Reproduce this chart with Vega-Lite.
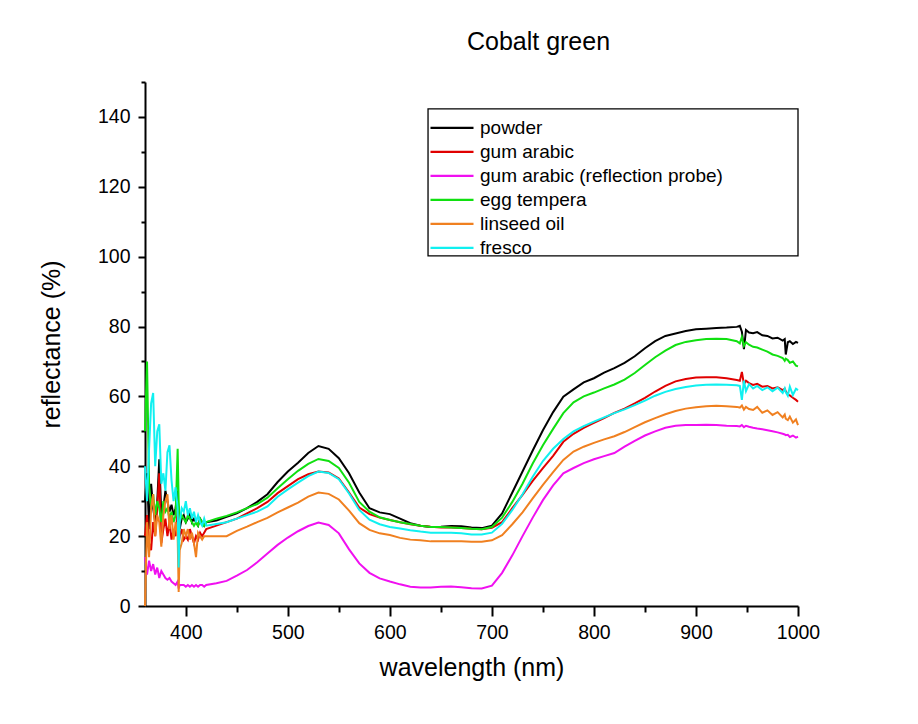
{
  "$schema": "https://vega.github.io/schema/vega-lite/v6.json",
  "autosize": {"type": "none"},
  "padding": {"left": 145, "top": 82, "right": 120, "bottom": 118},
  "width": 653,
  "height": 524,
  "background": "white",
  "title": {
    "text": "Cobalt green",
    "fontSize": 25,
    "fontWeight": "normal",
    "font": "Liberation Sans",
    "color": "black",
    "anchor": "middle",
    "dx": 67,
    "offset": 26
  },
  "config": {
    "view": {"stroke": null},
    "font": "Liberation Sans"
  },
  "resolve": {"axis": {"x": "independent", "y": "independent"}},
  "layer": [
    {
      "data": {
        "values": [
          {"wl": 360, "powder": 30, "gum arabic": 20, "gum arabic (reflection probe)": 14, "egg tempera": 50, "linseed oil": 0, "fresco": 40},
          {"wl": 362, "powder": 38, "gum arabic": 26, "gum arabic (reflection probe)": 9, "egg tempera": 70, "linseed oil": 24, "fresco": 30},
          {"wl": 364, "powder": 22, "gum arabic": 18, "gum arabic (reflection probe)": 13, "egg tempera": 35, "linseed oil": 14, "fresco": 45},
          {"wl": 366, "powder": 35, "gum arabic": 16, "gum arabic (reflection probe)": 10, "egg tempera": 28, "linseed oil": 28, "fresco": 58},
          {"wl": 368, "powder": 28, "gum arabic": 24, "gum arabic (reflection probe)": 12, "egg tempera": 32, "linseed oil": 32, "fresco": 61},
          {"wl": 370, "powder": 24, "gum arabic": 20, "gum arabic (reflection probe)": 9, "egg tempera": 26, "linseed oil": 20, "fresco": 40},
          {"wl": 372, "powder": 30, "gum arabic": 28, "gum arabic (reflection probe)": 11, "egg tempera": 30, "linseed oil": 26, "fresco": 50},
          {"wl": 374, "powder": 42, "gum arabic": 38, "gum arabic (reflection probe)": 8, "egg tempera": 28, "linseed oil": 24, "fresco": 52},
          {"wl": 376, "powder": 26, "gum arabic": 18, "gum arabic (reflection probe)": 10, "egg tempera": 24, "linseed oil": 17, "fresco": 35},
          {"wl": 378, "powder": 28, "gum arabic": 22, "gum arabic (reflection probe)": 9, "egg tempera": 30, "linseed oil": 26, "fresco": 38},
          {"wl": 380, "powder": 33, "gum arabic": 25, "gum arabic (reflection probe)": 8, "egg tempera": 27, "linseed oil": 30, "fresco": 33},
          {"wl": 382, "powder": 30, "gum arabic": 20, "gum arabic (reflection probe)": 7.5, "egg tempera": 28, "linseed oil": 32, "fresco": 44},
          {"wl": 384, "powder": 27, "gum arabic": 24, "gum arabic (reflection probe)": 8, "egg tempera": 25, "linseed oil": 22, "fresco": 46},
          {"wl": 386, "powder": 29, "gum arabic": 19, "gum arabic (reflection probe)": 7, "egg tempera": 27, "linseed oil": 26, "fresco": 36},
          {"wl": 388, "powder": 26, "gum arabic": 22, "gum arabic (reflection probe)": 6.5, "egg tempera": 24, "linseed oil": 19, "fresco": 30},
          {"wl": 390, "powder": 28, "gum arabic": 20, "gum arabic (reflection probe)": 6, "egg tempera": 26, "linseed oil": 24, "fresco": 34},
          {"wl": 392, "powder": 33, "gum arabic": 28, "gum arabic (reflection probe)": 7, "egg tempera": 45, "linseed oil": 20, "fresco": 28},
          {"wl": 393, "powder": 24, "gum arabic": 18, "gum arabic (reflection probe)": 5, "egg tempera": 30, "linseed oil": 4, "fresco": 11},
          {"wl": 394, "powder": 22, "gum arabic": 20, "gum arabic (reflection probe)": 6, "egg tempera": 24, "linseed oil": 16, "fresco": 24},
          {"wl": 396, "powder": 25, "gum arabic": 22, "gum arabic (reflection probe)": 6, "egg tempera": 26, "linseed oil": 18, "fresco": 28},
          {"wl": 398, "powder": 26, "gum arabic": 19, "gum arabic (reflection probe)": 6, "egg tempera": 25, "linseed oil": 22, "fresco": 27},
          {"wl": 400, "powder": 24, "gum arabic": 20, "gum arabic (reflection probe)": 5.5, "egg tempera": 24, "linseed oil": 20, "fresco": 30},
          {"wl": 402, "powder": 25, "gum arabic": 19, "gum arabic (reflection probe)": 6, "egg tempera": 26, "linseed oil": 22, "fresco": 26},
          {"wl": 404, "powder": 27, "gum arabic": 22, "gum arabic (reflection probe)": 5.5, "egg tempera": 25, "linseed oil": 19, "fresco": 28},
          {"wl": 406, "powder": 24, "gum arabic": 20, "gum arabic (reflection probe)": 6, "egg tempera": 24, "linseed oil": 21, "fresco": 25},
          {"wl": 408, "powder": 25, "gum arabic": 18, "gum arabic (reflection probe)": 5.5, "egg tempera": 23, "linseed oil": 18, "fresco": 27},
          {"wl": 410, "powder": 24, "gum arabic": 20, "gum arabic (reflection probe)": 6, "egg tempera": 24, "linseed oil": 14, "fresco": 24},
          {"wl": 412, "powder": 23, "gum arabic": 19, "gum arabic (reflection probe)": 5.5, "egg tempera": 23, "linseed oil": 21, "fresco": 26},
          {"wl": 414, "powder": 25, "gum arabic": 21, "gum arabic (reflection probe)": 6, "egg tempera": 25, "linseed oil": 20, "fresco": 24},
          {"wl": 416, "powder": 24, "gum arabic": 20, "gum arabic (reflection probe)": 6, "egg tempera": 24, "linseed oil": 19, "fresco": 23},
          {"wl": 418, "powder": 23, "gum arabic": 21, "gum arabic (reflection probe)": 5.5, "egg tempera": 23, "linseed oil": 20, "fresco": 25},
          {"wl": 420, "powder": 24, "gum arabic": 22, "gum arabic (reflection probe)": 6, "egg tempera": 24, "linseed oil": 20, "fresco": 23},
          {"wl": 430, "powder": 24.5, "gum arabic": 23, "gum arabic (reflection probe)": 6.5, "egg tempera": 25, "linseed oil": 20, "fresco": 23.5},
          {"wl": 440, "powder": 25.5, "gum arabic": 24, "gum arabic (reflection probe)": 7.2, "egg tempera": 25.8, "linseed oil": 20, "fresco": 24},
          {"wl": 450, "powder": 26.5, "gum arabic": 25, "gum arabic (reflection probe)": 8.7, "egg tempera": 26.8, "linseed oil": 21.5, "fresco": 25},
          {"wl": 460, "powder": 28, "gum arabic": 26.5, "gum arabic (reflection probe)": 10.3, "egg tempera": 28, "linseed oil": 22.7, "fresco": 26},
          {"wl": 470, "powder": 29.8, "gum arabic": 28, "gum arabic (reflection probe)": 12.5, "egg tempera": 29.2, "linseed oil": 24, "fresco": 27},
          {"wl": 480, "powder": 32, "gum arabic": 29.8, "gum arabic (reflection probe)": 15, "egg tempera": 31, "linseed oil": 25.2, "fresco": 28.5},
          {"wl": 490, "powder": 35.5, "gum arabic": 32.3, "gum arabic (reflection probe)": 17.5, "egg tempera": 33.7, "linseed oil": 26.8, "fresco": 31.3},
          {"wl": 500, "powder": 38.5, "gum arabic": 34.3, "gum arabic (reflection probe)": 19.6, "egg tempera": 36.3, "linseed oil": 28.2, "fresco": 33.4},
          {"wl": 510, "powder": 41, "gum arabic": 36.3, "gum arabic (reflection probe)": 21.4, "egg tempera": 38.7, "linseed oil": 29.6, "fresco": 35.3},
          {"wl": 520, "powder": 43.8, "gum arabic": 37.7, "gum arabic (reflection probe)": 22.9, "egg tempera": 40.7, "linseed oil": 31.3, "fresco": 37.2},
          {"wl": 530, "powder": 45.8, "gum arabic": 38.5, "gum arabic (reflection probe)": 23.9, "egg tempera": 42.1, "linseed oil": 32.5, "fresco": 38.5},
          {"wl": 540, "powder": 45, "gum arabic": 38.2, "gum arabic (reflection probe)": 23.2, "egg tempera": 41.5, "linseed oil": 32.1, "fresco": 38.1},
          {"wl": 550, "powder": 42.3, "gum arabic": 36.5, "gum arabic (reflection probe)": 20.8, "egg tempera": 39.5, "linseed oil": 30.5, "fresco": 36.3},
          {"wl": 560, "powder": 38, "gum arabic": 32.5, "gum arabic (reflection probe)": 16.2, "egg tempera": 35.3, "linseed oil": 27.3, "fresco": 32.2},
          {"wl": 570, "powder": 32.5, "gum arabic": 28.2, "gum arabic (reflection probe)": 12.2, "egg tempera": 29.8, "linseed oil": 23.7, "fresco": 27.5},
          {"wl": 580, "powder": 28, "gum arabic": 26.3, "gum arabic (reflection probe)": 9.5, "egg tempera": 27, "linseed oil": 21.8, "fresco": 24.7},
          {"wl": 590, "powder": 26.8, "gum arabic": 25.3, "gum arabic (reflection probe)": 7.9, "egg tempera": 25.4, "linseed oil": 20.8, "fresco": 23.4},
          {"wl": 600, "powder": 26.3, "gum arabic": 24.6, "gum arabic (reflection probe)": 7, "egg tempera": 24.6, "linseed oil": 20.3, "fresco": 22.6},
          {"wl": 610, "powder": 25, "gum arabic": 24, "gum arabic (reflection probe)": 6.2, "egg tempera": 24, "linseed oil": 19.5, "fresco": 22.2},
          {"wl": 620, "powder": 23.7, "gum arabic": 23.4, "gum arabic (reflection probe)": 5.5, "egg tempera": 23.5, "linseed oil": 19, "fresco": 21.7},
          {"wl": 630, "powder": 23, "gum arabic": 23, "gum arabic (reflection probe)": 5.3, "egg tempera": 23, "linseed oil": 18.8, "fresco": 21.3},
          {"wl": 640, "powder": 22.6, "gum arabic": 22.7, "gum arabic (reflection probe)": 5.3, "egg tempera": 22.6, "linseed oil": 18.5, "fresco": 21},
          {"wl": 650, "powder": 22.7, "gum arabic": 22.5, "gum arabic (reflection probe)": 5.5, "egg tempera": 22.6, "linseed oil": 18.5, "fresco": 21},
          {"wl": 660, "powder": 22.9, "gum arabic": 22.5, "gum arabic (reflection probe)": 5.6, "egg tempera": 22.5, "linseed oil": 18.5, "fresco": 21},
          {"wl": 670, "powder": 22.8, "gum arabic": 22.3, "gum arabic (reflection probe)": 5.4, "egg tempera": 22.3, "linseed oil": 18.5, "fresco": 20.8},
          {"wl": 680, "powder": 22.5, "gum arabic": 22.1, "gum arabic (reflection probe)": 5.1, "egg tempera": 22.1, "linseed oil": 18.4, "fresco": 20.5},
          {"wl": 690, "powder": 22.3, "gum arabic": 22, "gum arabic (reflection probe)": 5, "egg tempera": 22, "linseed oil": 18.4, "fresco": 20.5},
          {"wl": 700, "powder": 23, "gum arabic": 22.4, "gum arabic (reflection probe)": 5.8, "egg tempera": 22.6, "linseed oil": 18.8, "fresco": 21},
          {"wl": 710, "powder": 26.5, "gum arabic": 24, "gum arabic (reflection probe)": 9.5, "egg tempera": 25.3, "linseed oil": 20.3, "fresco": 23.5},
          {"wl": 720, "powder": 32.5, "gum arabic": 28, "gum arabic (reflection probe)": 14.5, "egg tempera": 29.8, "linseed oil": 23.4, "fresco": 27.5},
          {"wl": 730, "powder": 38.5, "gum arabic": 31.8, "gum arabic (reflection probe)": 20, "egg tempera": 35, "linseed oil": 26.8, "fresco": 32},
          {"wl": 740, "powder": 44.5, "gum arabic": 35.8, "gum arabic (reflection probe)": 25.3, "egg tempera": 40.8, "linseed oil": 30.8, "fresco": 37},
          {"wl": 750, "powder": 50.3, "gum arabic": 39.5, "gum arabic (reflection probe)": 30.3, "egg tempera": 46, "linseed oil": 34.7, "fresco": 41.5},
          {"wl": 760, "powder": 55.5, "gum arabic": 43, "gum arabic (reflection probe)": 34.5, "egg tempera": 50.7, "linseed oil": 38.3, "fresco": 45},
          {"wl": 770, "powder": 59.9, "gum arabic": 47, "gum arabic (reflection probe)": 38, "egg tempera": 55.2, "linseed oil": 41.8, "fresco": 47.8},
          {"wl": 780, "powder": 62, "gum arabic": 49.3, "gum arabic (reflection probe)": 39.5, "egg tempera": 58.3, "linseed oil": 44.2, "fresco": 50},
          {"wl": 790, "powder": 64, "gum arabic": 51, "gum arabic (reflection probe)": 40.9, "egg tempera": 60, "linseed oil": 45.6, "fresco": 51.5},
          {"wl": 800, "powder": 65.2, "gum arabic": 52.4, "gum arabic (reflection probe)": 42, "egg tempera": 61.1, "linseed oil": 46.7, "fresco": 52.8},
          {"wl": 810, "powder": 66.8, "gum arabic": 53.8, "gum arabic (reflection probe)": 42.9, "egg tempera": 62.3, "linseed oil": 47.7, "fresco": 54},
          {"wl": 820, "powder": 68.1, "gum arabic": 55.3, "gum arabic (reflection probe)": 43.8, "egg tempera": 63.4, "linseed oil": 48.6, "fresco": 55.2},
          {"wl": 830, "powder": 69.6, "gum arabic": 56.5, "gum arabic (reflection probe)": 45.6, "egg tempera": 64.8, "linseed oil": 49.8, "fresco": 56.3},
          {"wl": 840, "powder": 71.5, "gum arabic": 58, "gum arabic (reflection probe)": 47.3, "egg tempera": 66.7, "linseed oil": 51.2, "fresco": 57.5},
          {"wl": 850, "powder": 73.8, "gum arabic": 59.6, "gum arabic (reflection probe)": 48.8, "egg tempera": 69, "linseed oil": 52.6, "fresco": 58.8},
          {"wl": 860, "powder": 75.8, "gum arabic": 61.4, "gum arabic (reflection probe)": 50, "egg tempera": 71.2, "linseed oil": 53.8, "fresco": 60.2},
          {"wl": 870, "powder": 77.3, "gum arabic": 63, "gum arabic (reflection probe)": 51, "egg tempera": 73.1, "linseed oil": 54.9, "fresco": 61.3},
          {"wl": 880, "powder": 78, "gum arabic": 64.3, "gum arabic (reflection probe)": 51.6, "egg tempera": 74.7, "linseed oil": 55.8, "fresco": 62.1},
          {"wl": 890, "powder": 78.7, "gum arabic": 65, "gum arabic (reflection probe)": 51.8, "egg tempera": 75.6, "linseed oil": 56.5, "fresco": 62.7},
          {"wl": 900, "powder": 79.2, "gum arabic": 65.4, "gum arabic (reflection probe)": 51.8, "egg tempera": 76.1, "linseed oil": 56.9, "fresco": 63.1},
          {"wl": 910, "powder": 79.4, "gum arabic": 65.5, "gum arabic (reflection probe)": 51.9, "egg tempera": 76.4, "linseed oil": 57.2, "fresco": 63.3},
          {"wl": 920, "powder": 79.6, "gum arabic": 65.5, "gum arabic (reflection probe)": 51.8, "egg tempera": 76.5, "linseed oil": 57.3, "fresco": 63.4},
          {"wl": 930, "powder": 79.7, "gum arabic": 65.2, "gum arabic (reflection probe)": 51.6, "egg tempera": 76.4, "linseed oil": 57.2, "fresco": 63.3},
          {"wl": 940, "powder": 79.9, "gum arabic": 64.7, "gum arabic (reflection probe)": 51.5, "egg tempera": 75.8, "linseed oil": 57, "fresco": 63.2},
          {"wl": 943, "powder": 80.2, "gum arabic": 64.5, "gum arabic (reflection probe)": 51.4, "egg tempera": 75.2, "linseed oil": 56.8, "fresco": 63},
          {"wl": 945, "powder": 78.5, "gum arabic": 67, "gum arabic (reflection probe)": 51.8, "egg tempera": 77, "linseed oil": 57.4, "fresco": 59},
          {"wl": 947, "powder": 73.5, "gum arabic": 63.5, "gum arabic (reflection probe)": 51.2, "egg tempera": 74.5, "linseed oil": 56.2, "fresco": 64.5},
          {"wl": 949, "powder": 79, "gum arabic": 64.5, "gum arabic (reflection probe)": 51.6, "egg tempera": 75.5, "linseed oil": 57, "fresco": 61.5},
          {"wl": 952, "powder": 78.3, "gum arabic": 63.8, "gum arabic (reflection probe)": 51.3, "egg tempera": 74.8, "linseed oil": 56.4, "fresco": 63.5},
          {"wl": 956, "powder": 78.1, "gum arabic": 63.3, "gum arabic (reflection probe)": 51, "egg tempera": 74.2, "linseed oil": 56.1, "fresco": 62.3},
          {"wl": 960, "powder": 78.4, "gum arabic": 63.6, "gum arabic (reflection probe)": 50.8, "egg tempera": 74, "linseed oil": 57, "fresco": 63},
          {"wl": 965, "powder": 77.5, "gum arabic": 62.8, "gum arabic (reflection probe)": 50.6, "egg tempera": 73.4, "linseed oil": 55.3, "fresco": 61.8},
          {"wl": 970, "powder": 77.3, "gum arabic": 63, "gum arabic (reflection probe)": 50.3, "egg tempera": 72.8, "linseed oil": 56, "fresco": 62.6},
          {"wl": 975, "powder": 76.6, "gum arabic": 62.3, "gum arabic (reflection probe)": 50, "egg tempera": 72, "linseed oil": 54.7, "fresco": 61.5},
          {"wl": 980, "powder": 76.8, "gum arabic": 62.6, "gum arabic (reflection probe)": 49.7, "egg tempera": 71.6, "linseed oil": 55.5, "fresco": 62.5},
          {"wl": 985, "powder": 76, "gum arabic": 61.8, "gum arabic (reflection probe)": 49.3, "egg tempera": 71, "linseed oil": 54, "fresco": 61},
          {"wl": 987, "powder": 76.4, "gum arabic": 62.2, "gum arabic (reflection probe)": 49.1, "egg tempera": 70.2, "linseed oil": 54.8, "fresco": 62.3},
          {"wl": 988, "powder": 72, "gum arabic": 61.5, "gum arabic (reflection probe)": 48.9, "egg tempera": 70.8, "linseed oil": 53.6, "fresco": 61.2},
          {"wl": 990, "powder": 75.5, "gum arabic": 60.5, "gum arabic (reflection probe)": 49, "egg tempera": 70.4, "linseed oil": 53.2, "fresco": 60.2},
          {"wl": 992, "powder": 75.8, "gum arabic": 60.3, "gum arabic (reflection probe)": 48.4, "egg tempera": 69.6, "linseed oil": 54.2, "fresco": 62.8},
          {"wl": 995, "powder": 75, "gum arabic": 59.6, "gum arabic (reflection probe)": 48.8, "egg tempera": 70, "linseed oil": 52.5, "fresco": 60.4},
          {"wl": 998, "powder": 75.6, "gum arabic": 59, "gum arabic (reflection probe)": 48.2, "egg tempera": 68.8, "linseed oil": 53.4, "fresco": 62.2},
          {"wl": 1000, "powder": 75.3, "gum arabic": 58.5, "gum arabic (reflection probe)": 48.5, "egg tempera": 68.6, "linseed oil": 51.8, "fresco": 61.8}
        ]
      },
      "transform": [
        {
          "fold": ["powder", "gum arabic", "gum arabic (reflection probe)", "egg tempera", "linseed oil", "fresco"],
          "as": ["sample", "reflectance"]
        }
      ],
      "mark": {"type": "line", "strokeWidth": 2, "interpolate": "linear"},
      "encoding": {
        "x": {
          "field": "wl",
          "type": "quantitative",
          "scale": {"domain": [360, 1000], "nice": false, "zero": false},
          "axis": {
            "orient": "bottom",
            "values": [400, 500, 600, 700, 800, 900, 1000],
            "format": "d",
            "grid": false,
            "domainColor": "black",
            "domainWidth": 2,
            "tickColor": "black",
            "tickWidth": 2,
            "tickSize": 10,
            "labelFontSize": 19.5,
            "labelColor": "black",
            "labelPadding": 7,
            "labelFlush": false,
            "title": "wavelength (nm)",
            "titleFontSize": 25,
            "titleFontWeight": "normal",
            "titleColor": "black",
            "titlePadding": 14
          }
        },
        "y": {
          "field": "reflectance",
          "type": "quantitative",
          "scale": {"domain": [0, 150], "nice": false},
          "axis": {
            "orient": "left",
            "values": [0, 20, 40, 60, 80, 100, 120, 140],
            "format": "d",
            "grid": false,
            "domainColor": "black",
            "domainWidth": 2,
            "tickColor": "black",
            "tickWidth": 2,
            "tickSize": 7,
            "labelFontSize": 19.5,
            "labelColor": "black",
            "labelPadding": 8,
            "title": "reflectance (%)",
            "titleFontSize": 25,
            "titleFontWeight": "normal",
            "titleColor": "black",
            "titlePadding": 33
          }
        },
        "color": {
          "field": "sample",
          "type": "nominal",
          "scale": {
            "domain": ["powder", "gum arabic", "gum arabic (reflection probe)", "egg tempera", "linseed oil", "fresco"],
            "range": ["#000000", "#e00000", "#f010f0", "#10e010", "#f08020", "#10f0f0"]
          },
          "legend": {
            "orient": "none",
            "legendX": 284,
            "legendY": 34,
            "title": null,
            "padding": 0,
            "clipHeight": 23.6,
            "rowPadding": 0,
            "symbolType": "stroke",
            "symbolSize": 1849,
            "symbolStrokeWidth": 2.2,
            "labelFontSize": 19,
            "labelColor": "black",
            "labelOffset": 5,
            "labelLimit": 400
          }
        }
      }
    },
    {
      "data": {"values": [{}]},
      "mark": {"type": "rect", "filled": false, "stroke": "black", "strokeWidth": 1.3},
      "encoding": {
        "x": {
          "datum": 637.4,
          "type": "quantitative",
          "axis": {
            "orient": "bottom",
            "values": [450, 550, 650, 750, 850, 950],
            "labels": false,
            "domain": false,
            "grid": false,
            "tickColor": "black",
            "tickWidth": 2,
            "tickSize": 6,
            "title": null
          }
        },
        "x2": {"datum": 1000},
        "y": {
          "datum": 100.2,
          "type": "quantitative",
          "axis": {
            "orient": "left",
            "values": [10, 30, 50, 70, 90, 110, 130, 150],
            "labels": false,
            "domain": false,
            "grid": false,
            "tickColor": "black",
            "tickWidth": 2,
            "tickSize": 4,
            "title": null
          }
        },
        "y2": {"datum": 142.3}
      }
    }
  ]
}
